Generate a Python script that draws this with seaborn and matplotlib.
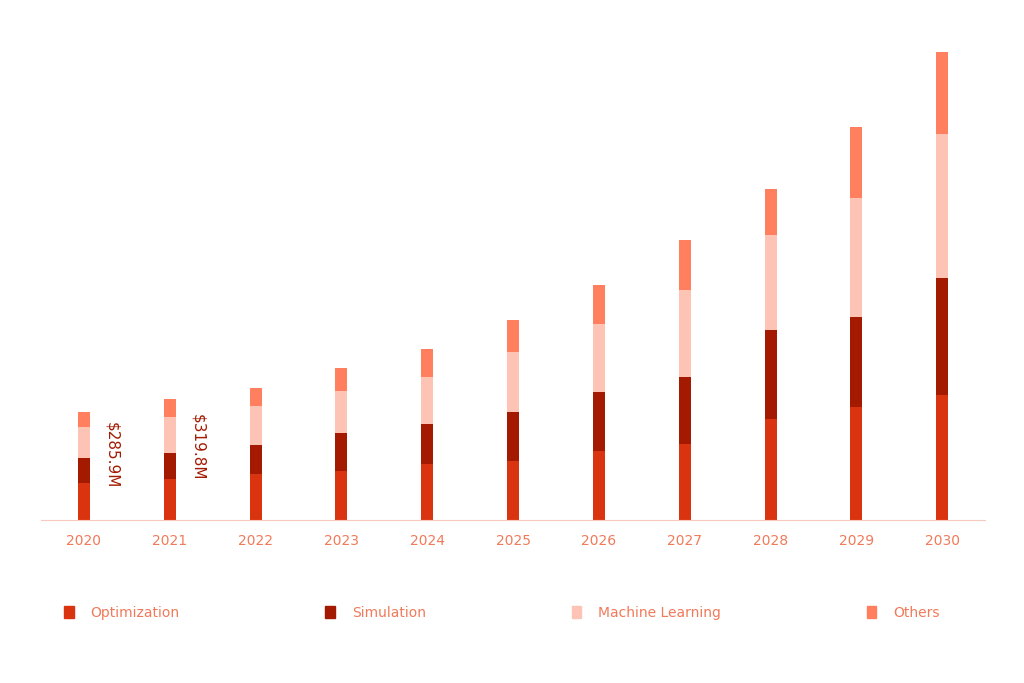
import matplotlib
matplotlib.use('Agg')
import matplotlib.pyplot as plt
from matplotlib.patches import Patch
import seaborn as sns
import pandas as pd
import numpy as np

years = ['2020', '2021', '2022', '2023', '2024', '2025', '2026', '2027', '2028', '2029', '2030']
optimization = [98, 109, 122, 130, 148, 156, 183, 201, 267, 299, 331]
simulation = [66, 69, 77, 101, 106, 130, 156, 177, 236, 238, 310]
machine_learning = [82, 93, 101, 109, 124, 159, 180, 230, 251, 315, 381]
others = [40, 49, 48, 61, 74, 85, 103, 132, 122, 188, 217]
labels = {0: '$285.9M', 1: '$319.8M'}

series = [('Optimization', optimization, '#D9330F'),
          ('Simulation', simulation, '#A31A00'),
          ('Machine Learning', machine_learning, '#FDC4B6'),
          ('Others', others, '#FF7F5E')]

fig = plt.figure(figsize=(10.24, 6.83), dpi=100)
ax = fig.add_axes([0.04, 0.239, 0.922, 0.73])

bottom = np.zeros(len(years))
for name, vals, color in series:
    df = pd.DataFrame({'year': years, 'value': vals})
    sns.barplot(data=df, x='year', y='value', color=color, width=0.14,
                bottom=bottom, ax=ax, saturation=1)
    bottom += np.array(vals)

for i, txt in labels.items():
    ax.text(i + 0.33, bottom[i] * 0.6, txt, rotation=-90, ha='center', va='center',
            color='#A31A00', fontsize=11)

ax.set_ylim(0, 1320)
ax.set_xlim(-0.5, len(years) - 0.5)
ax.set_xlabel('')
ax.set_ylabel('')
ax.set_yticks([])
for s in ['top', 'right', 'left']:
    ax.spines[s].set_visible(False)
ax.spines['bottom'].set_color('#F8C9BE')
ax.tick_params(axis='x', length=0, colors='#F07A5A', labelsize=10, pad=10)

handles = [Patch(color=c, label=n) for n, _, c in series]
fig.legend(handles=handles, loc='center', bbox_to_anchor=(0.49, 0.103), ncol=4,
           frameon=False, handlelength=0.7, handleheight=0.9, columnspacing=10.5,
           handletextpad=1.2, labelcolor='#F07A5A', fontsize=10)

fig.savefig('out.png', dpi=100)
